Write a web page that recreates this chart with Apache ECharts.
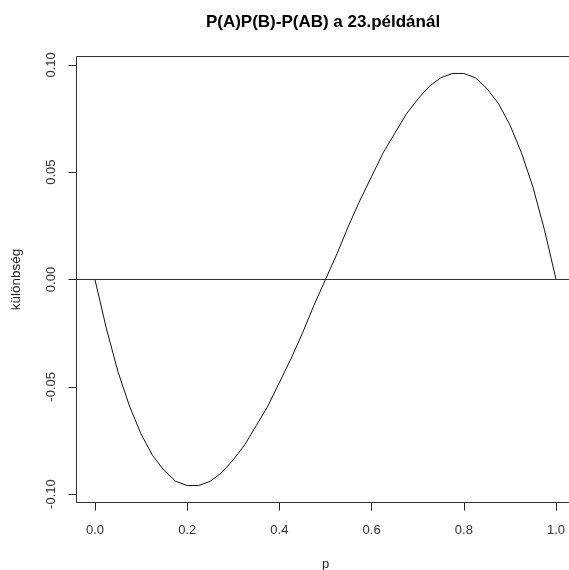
<!DOCTYPE html>
<html>
<head>
<meta charset="utf-8">
<script src="https://cdn.jsdelivr.net/npm/echarts@6/dist/echarts.min.js"></script>
<style>html,body{margin:0;padding:0;background:#fff}#c{width:569px;height:570px}</style>
</head>
<body>
<div id="c"></div>
<script>
const titleText = "P(A)P(B)-P(AB) a 23.példánál";
const xName = "p";
const yName = "különbség";
const pValues = [0, 0.025, 0.05, 0.075, 0.1, 0.125, 0.15, 0.175, 0.2, 0.225, 0.25, 0.275, 0.3, 0.325, 0.35, 0.375, 0.4, 0.425, 0.45, 0.475, 0.5,
  0.525, 0.55, 0.575, 0.6, 0.625, 0.65, 0.675, 0.7, 0.725, 0.75, 0.775, 0.8, 0.825, 0.85, 0.875, 0.9, 0.925, 0.95, 0.975, 1];
const diffValues = [0, -0.023, -0.043, -0.059, -0.072, -0.082, -0.089, -0.094, -0.096, -0.096, -0.094, -0.090, -0.084, -0.077, -0.068, -0.059, -0.048, -0.037, -0.025, -0.012, 0,
  0.012, 0.025, 0.037, 0.048, 0.059, 0.068, 0.077, 0.084, 0.090, 0.094, 0.096, 0.096, 0.094, 0.089, 0.082, 0.072, 0.059, 0.043, 0.023, 0];
const xTicks = [0, 0.2, 0.4, 0.6, 0.8, 1.0];
const yTicks = [-0.1, -0.05, 0, 0.05, 0.1];

const chart = echarts.init(document.getElementById('c'), null, {renderer: 'canvas'});
const font = "'Liberation Sans', Arial, sans-serif";
chart.setOption({
  animation: false,
  title: {
    text: titleText, left: 318, top: 9, textAlign: 'center',
    textStyle: {fontFamily: font, fontSize: 17, fontWeight: 'bold', color: '#000'}
  },
  grid: {left: 76.5, top: 56.5, width: 498, height: 446, show: true, borderColor: '#333', borderWidth: 1,
    backgroundColor: 'transparent', outerBoundsMode: 'none', containLabel: false},
  xAxis: {
    type: 'value', min: -0.04, max: 1.04,
    name: xName, nameLocation: 'middle', nameGap: 55,
    nameTextStyle: {fontFamily: font, fontSize: 13, color: '#222'},
    axisLine: {show: false, onZero: false},
    axisTick: {show: true, length: 8, customValues: xTicks, lineStyle: {color: '#222'}},
    axisLabel: {customValues: xTicks, margin: 21, fontFamily: font, fontSize: 13, color: '#333',
      formatter: v => v.toFixed(1)},
    splitLine: {show: false}
  },
  yAxis: {
    type: 'value', min: -0.1039, max: 0.1039,
    name: yName, nameLocation: 'middle', nameGap: 53,
    nameTextStyle: {fontFamily: font, fontSize: 13.5, color: '#222'},
    axisLine: {show: false, onZero: false},
    axisTick: {show: true, length: 8, customValues: yTicks, lineStyle: {color: '#222'}},
    axisLabel: {customValues: yTicks, rotate: 90, margin: 19, fontFamily: font, fontSize: 13, color: '#333',
      formatter: v => v.toFixed(2)},
    splitLine: {show: false}
  },
  series: [{
    type: 'line',
    data: pValues.map((p, i) => [p, diffValues[i]]),
    showSymbol: false, smooth: false,
    lineStyle: {color: '#111', width: 1},
    markLine: {
      silent: true, symbol: ['none', 'none'], label: {show: false},
      lineStyle: {color: '#333', width: 1, type: 'solid'},
      data: [{yAxis: 0}]
    }
  }]
});
</script>
</body>
</html>
